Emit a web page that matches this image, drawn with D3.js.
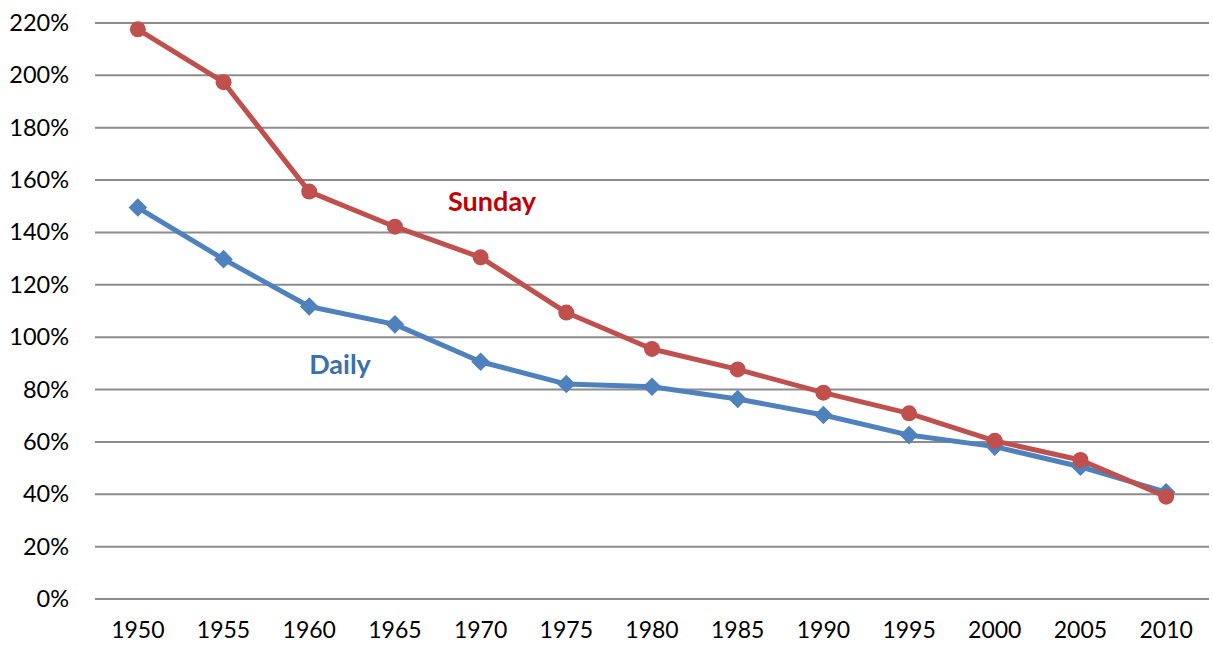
<!DOCTYPE html>
<html><head><meta charset="utf-8">
<script src="https://cdn.jsdelivr.net/npm/d3@7"></script>
<style>body{margin:0;background:#fff}svg{display:block}</style>
</head><body>
<svg id="c" width="1213" height="648"></svg>
<script>
const years = ["1950","1955","1960","1965","1970","1975","1980","1985","1990","1995","2000","2005","2010"];
const sunday = [217.6,197.4,155.6,142.2,130.5,109.4,95.5,87.7,78.8,70.9,60.4,53.1,39.1];
const daily  = [149.5,129.8,111.7,104.9,90.6,82.1,81.1,76.4,70.3,62.6,58.2,50.5,40.8];
const yTicks = [0,20,40,60,80,100,120,140,160,180,200,220];

const svg = d3.select("#c");
const pL = 95, pR = 1209, pT = 23, pB = 599;
const x = d3.scaleBand().domain(years).range([pL, pR]);
const y = d3.scaleLinear().domain([0, 220]).range([pB, pT]);
const font = "Lato, 'Open Sans', sans-serif";

// gridlines
svg.append("g").selectAll("line").data(yTicks).join("line")
  .attr("x1", pL).attr("x2", pR)
  .attr("y1", d => y(d)).attr("y2", d => y(d))
  .attr("stroke", "#8c8c8c").attr("stroke-width", 2);

// y axis labels
const ya = svg.append("g").attr("transform", `translate(${pL},0)`)
  .call(d3.axisLeft(y).tickValues(yTicks).tickFormat(d => d + "%").tickSize(0).tickPadding(26));
ya.select(".domain").remove();
ya.selectAll("text").attr("font-family", font).attr("font-size", 23.5).attr("fill", "#000");

// x axis labels
const xa = svg.append("g").attr("transform", `translate(0,${pB})`)
  .call(d3.axisBottom(x).tickSize(0).tickPadding(23));
xa.select(".domain").remove();
xa.selectAll("text").attr("font-family", font).attr("font-size", 23).attr("fill", "#000");

const cx = d => x(d) + x.bandwidth() / 2;
const line = d3.line().x(d => cx(d[0])).y(d => y(d[1]));

const dData = years.map((yr, i) => [yr, daily[i]]);
const sData = years.map((yr, i) => [yr, sunday[i]]);

svg.append("path").datum(dData).attr("d", line)
  .attr("fill", "none").attr("stroke", "#4F81BD").attr("stroke-width", 5).attr("stroke-linejoin", "round");
svg.append("g").selectAll("path").data(dData).join("path")
  .attr("d", d3.symbol().type(d3.symbolDiamond2).size(220))
  .attr("transform", d => `translate(${cx(d[0])},${y(d[1])})`)
  .attr("fill", "#4F81BD");

svg.append("path").datum(sData).attr("d", line)
  .attr("fill", "none").attr("stroke", "#C0504D").attr("stroke-width", 5).attr("stroke-linejoin", "round");
svg.append("g").selectAll("circle").data(sData).join("circle")
  .attr("cx", d => cx(d[0])).attr("cy", d => y(d[1])).attr("r", 8)
  .attr("fill", "#C0504D");

svg.append("text").attr("x", 492).attr("y", 211).attr("text-anchor", "middle")
  .attr("font-family", font).attr("font-weight", "bold").attr("font-size", 27)
  .attr("fill", "#C00000").text("Sunday");
svg.append("text").attr("x", 340).attr("y", 374).attr("text-anchor", "middle")
  .attr("font-family", font).attr("font-weight", "bold").attr("font-size", 27)
  .attr("fill", "#3A6FB0").text("Daily");
</script>
</body></html>
